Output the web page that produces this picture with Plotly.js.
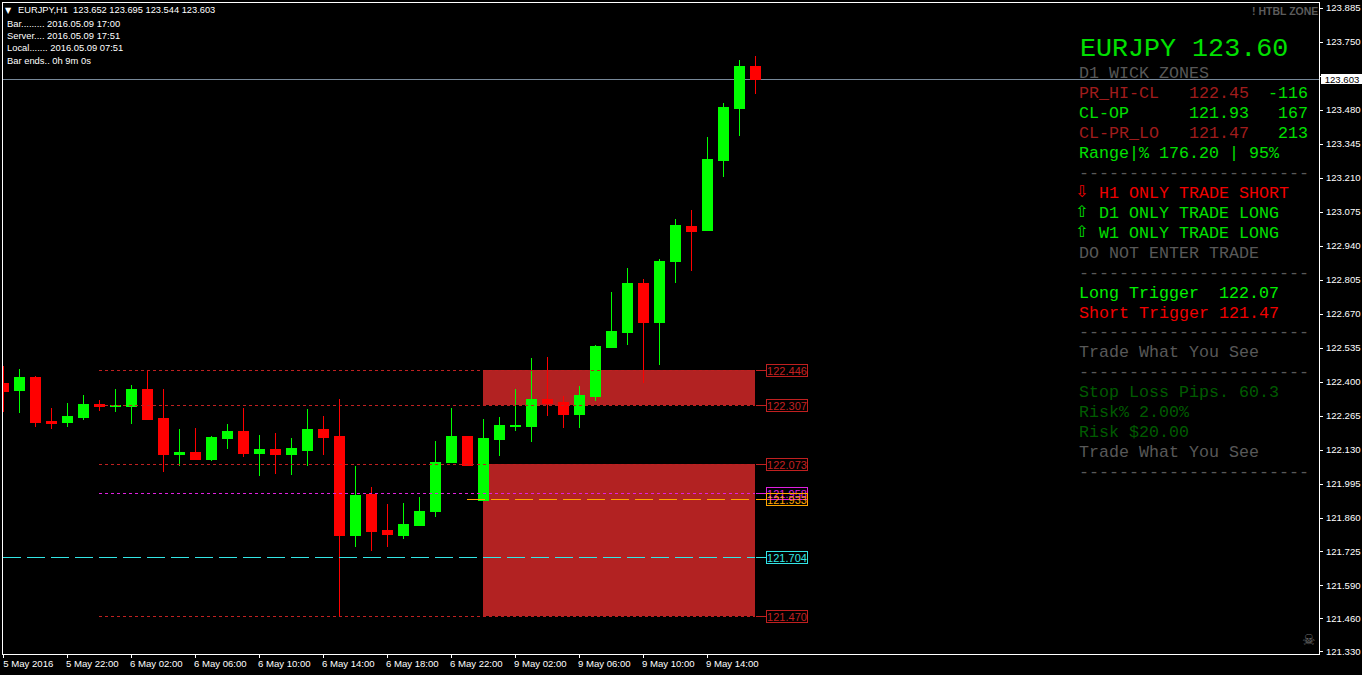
<!DOCTYPE html>
<html><head><meta charset="utf-8">
<script src="https://cdn.plot.ly/plotly-3.0.1.min.js"></script>
<style>html,body{margin:0;padding:0;background:#000;overflow:hidden}#chart{width:1362px;height:675px}
.scatterlayer path,.shapelayer path,.boxlayer path{shape-rendering:crispEdges}</style>
</head><body><div id="chart"></div>
<script>
const openPrices = [122.396,122.368,122.416,122.245,122.241,122.261,122.309,122.301,122.301,122.372,122.257,122.114,122.122,122.094,122.174,122.205,122.118,122.134,122.114,122.130,122.213,122.182,121.792,121.955,121.812,121.792,121.832,121.884,122.082,122.182,121.931,122.170,122.225,122.225,122.332,122.317,122.273,122.344,122.539,122.598,122.793,122.638,122.880,123.019,123.001,123.279,123.486,123.652];
const highPrices = [122.463,122.452,122.424,122.297,122.317,122.348,122.328,122.372,122.388,122.446,122.372,122.213,122.217,122.186,122.233,122.297,122.190,122.197,122.178,122.293,122.265,122.332,122.066,121.983,121.916,121.920,121.943,122.166,122.297,122.182,122.253,122.261,122.372,122.495,122.499,122.344,122.384,122.547,122.757,122.853,122.809,122.888,123.047,123.083,123.375,123.510,123.680,123.695];
const lowPrices = [122.281,122.277,122.221,122.213,122.221,122.249,122.285,122.281,122.233,122.249,122.043,122.066,122.090,122.086,122.134,122.102,122.027,122.035,122.031,122.066,122.110,121.470,121.745,121.729,121.745,121.777,121.832,121.864,122.082,122.066,121.931,122.106,122.205,122.162,122.265,122.217,122.217,122.324,122.539,122.547,122.395,122.467,122.793,122.841,123.001,123.216,123.379,123.544];
const closePrices = [122.364,122.416,122.241,122.237,122.265,122.309,122.301,122.305,122.372,122.253,122.114,122.122,122.094,122.178,122.205,122.118,122.134,122.114,122.138,122.213,122.178,121.792,121.951,121.808,121.796,121.836,121.884,122.082,122.182,122.070,122.174,122.229,122.229,122.332,122.313,122.273,122.348,122.543,122.602,122.793,122.638,122.880,123.023,122.997,123.283,123.490,123.652,123.603];
const barIndex = openPrices.map((_, i) => i);

const xTickVals = [0,4,8,12,16,20,24,28,32,36,40,44];
const xTickText = ['5 May 2016','5 May 22:00','6 May 02:00','6 May 06:00','6 May 10:00','6 May 14:00','6 May 18:00','6 May 22:00','9 May 02:00','9 May 06:00','9 May 10:00','9 May 14:00'];
const yTickVals = [123.885,123.750,123.615,123.480,123.345,123.210,123.075,122.940,122.805,122.670,122.535,122.400,122.265,122.130,121.995,121.860,121.725,121.590,121.460,121.330];
const yTickText = ['123.885','123.750','','123.480','123.345','123.210','123.075','122.940','122.805','122.670','122.535','122.400','122.265','122.130','121.995','121.860','121.725','121.590','121.460','121.330'];

const levelPrices = [122.446,122.307,122.073,121.958,121.933,121.704,121.470];
const levelLabels = ['122.446','122.307','122.073','121.958','121.933','121.704','121.470'];
const levelColors = ['#C02020','#C02020','#C02020','#E020E0','#FFA500','#33E6E6','#C02020'];
const levelStart = [6,6,6,6,29,0,6];
const levelDash = ['3px,3px','3px,3px','3px,3px','3px,3px','18px,6px','18px,6px','3px,3px'];
const zoneTop = [122.446,122.073];
const zoneBottom = [122.307,121.470];
const bidPrice = 123.603;

const LEFT=3, RIGHT=1319, TOP=2.5, BOTTOM=654.5;
const px = x => (x-LEFT)/(RIGHT-LEFT);
const py = y => 1-(y-TOP)/(BOTTOM-TOP);
const xRange = [-0.019, 82.23];
const yRange = [121.3199, 123.9052];

const traces = [{
  type:'candlestick', x:barIndex, open:openPrices, high:highPrices, low:lowPrices, close:closePrices,
  increasing:{line:{color:'#00FF00',width:1},fillcolor:'#00FF00'},
  decreasing:{line:{color:'#FF0000',width:1},fillcolor:'#FF0000'},
  whiskerwidth:0, hoverinfo:'skip', showlegend:false
}];
levelPrices.forEach((p,k)=>{
  traces.push({type:'scatter',mode:'lines',x:[levelStart[k],47],y:[p,p],line:{color:levelColors[k],width:1,dash:levelDash[k]},hoverinfo:'skip',showlegend:false});
  traces.push({type:'scatter',mode:'lines',x:[47.06,47.66],y:[p,p],line:{color:levelColors[k],width:1},hoverinfo:'skip',showlegend:false});
});

const MONO='"Liberation Mono", monospace', SANS='"Liberation Sans", Arial, sans-serif';
const LIME='#00E000', DRED='#A01C1C', RED='#F00000', GREY='#585858', DGREEN='#005A00';
const DASHES='-----------------------';
const panelText = [
 ['EURJPY 123.60',1080,49,LIME,26.7],
 ['D1 WICK ZONES',1079,73,GREY,16.67],
 ['PR_HI-CL',1079,93,DRED,16.67],['122.45',1189,93,DRED,16.67],['-116',1268,93,LIME,16.67],
 ['CL-OP',1079,113,LIME,16.67],['121.93',1189,113,LIME,16.67],['167',1278,113,LIME,16.67],
 ['CL-PR_LO',1079,133,DRED,16.67],['121.47',1189,133,DRED,16.67],['213',1278,133,LIME,16.67],
 ['Range|% 176.20 | 95%',1079,153,LIME,16.67],
 [DASHES,1079,173,GREY,16.67],
 ['H1 ONLY TRADE SHORT',1099,193,RED,16.67],
 ['D1 ONLY TRADE LONG',1099,213,LIME,16.67],
 ['W1 ONLY TRADE LONG',1099,233,LIME,16.67],
 ['DO NOT ENTER TRADE',1079,253,GREY,16.67],
 [DASHES,1079,273,GREY,16.67],
 ['Long Trigger  122.07',1079,293,'#00F000',16.67],
 ['Short Trigger 121.47',1079,313,RED,16.67],
 [DASHES,1079,333,GREY,16.67],
 ['Trade What You See',1079,353,GREY,16.67],
 [DASHES,1079,373,GREY,16.67],
 ['Stop Loss Pips. 60.3',1079,393,DGREEN,16.67],
 ['Risk% 2.00%',1079,413,DGREEN,16.67],
 ['Risk $20.00',1079,433,DGREEN,16.67],
 ['Trade What You See',1079,453,GREY,16.67],
 [DASHES,1079,473,GREY,16.67]
];
const infoText = [
 ['EURJPY,H1  123.652 123.695 123.544 123.603',18,10,9.3],
 ['Bar......... 2016.05.09 17:00',7,23,9.4],
 ['Server.... 2016.05.09 17:51',7,35.5,9.4],
 ['Local....... 2016.05.09 07:51',7,47.5,9.4],
 ['Bar ends.. 0h 9m 0s',7,60,9.4]
];
const annotations = [];
const note = (text,x,y,color,size,family,extra) => annotations.push(Object.assign({text,xref:'paper',yref:'paper',x:px(x),y:py(y),xanchor:'left',yanchor:'middle',showarrow:false,font:{family,size,color},borderpad:0,borderwidth:0},extra||{}));
panelText.forEach(t=>note(t[0].replace(/ /g,'\u00A0'),t[1],t[2],t[3],t[4],MONO));
infoText.forEach(t=>note(t[0].replace(/  /g,'\u00A0\u00A0'),t[1],t[2],'#FFFFFF',t[3],SANS));
note('▼',5,10,'#FFFFFF',8,'"DejaVu Sans"');
note('⇩',1075,191,RED,16,'"DejaVu Sans"');
note('⇧',1075,211,LIME,16,'"DejaVu Sans"');
note('⇧',1075,231,LIME,16,'"DejaVu Sans"');
note('<b>! HTBL ZONE</b>',1318,11,'#5C5C5C',10.5,SANS,{xanchor:'right'});
note('☠',1302,640,'#6E6E6E',15,'"DejaVu Sans"');
note('123.603',1321,78.5,'#000000',9.6,SANS,{bgcolor:'#FFFFFF',width:42,height:10,align:'center',valign:'middle'});
levelPrices.forEach((p,k)=>annotations.push({text:levelLabels[k],xref:'paper',yref:'y',x:px(765.5),y:p,xanchor:'left',yanchor:'middle',showarrow:false,font:{family:SANS,size:11,color:levelColors[k]},bordercolor:levelColors[k],borderwidth:1,borderpad:0,width:40,height:11,bgcolor:'rgba(0,0,0,0)'}));

const shapes = [{type:'line',xref:'paper',yref:'y',x0:0,x1:1,y0:bidPrice,y1:bidPrice,line:{color:'#778899',width:1},layer:'below'}];
zoneTop.forEach((t,k)=>shapes.push({type:'rect',xref:'x',yref:'y',x0:30,x1:47,y0:zoneBottom[k],y1:t,fillcolor:'#B22222',line:{width:0},layer:'below'}));

const layout = {
  width:1362,height:675,paper_bgcolor:'#000',plot_bgcolor:'#000',showlegend:false,
  margin:{l:LEFT,r:1362-RIGHT,t:TOP,b:675-BOTTOM,pad:0},
  boxgap:0.375,boxgroupgap:0,
  xaxis:{type:'linear',range:xRange,autorange:false,rangeslider:{visible:false},showgrid:false,zeroline:false,showline:true,mirror:true,linecolor:'#FFFFFF',linewidth:1,
    tickmode:'array',tickvals:xTickVals,ticktext:xTickText,ticks:'outside',ticklen:3,tickcolor:'#FFFFFF',tickwidth:1,ticklabelshift:25,ticklabelstandoff:-3,
    tickangle:0,tickfont:{family:SANS,size:9.6,color:'#FFFFFF'}},
  yaxis:{type:'linear',side:'right',range:yRange,autorange:false,showgrid:false,zeroline:false,showline:true,mirror:true,linecolor:'#FFFFFF',linewidth:1,
    tickmode:'array',tickvals:yTickVals,ticktext:yTickText,ticks:'outside',ticklen:3,tickcolor:'#FFFFFF',tickwidth:1,ticklabelstandoff:1,
    tickfont:{family:SANS,size:9.6,color:'#FFFFFF'}},
  annotations,shapes
};
Plotly.newPlot('chart',traces,layout,{displayModeBar:false,staticPlot:true});
</script></body></html>
